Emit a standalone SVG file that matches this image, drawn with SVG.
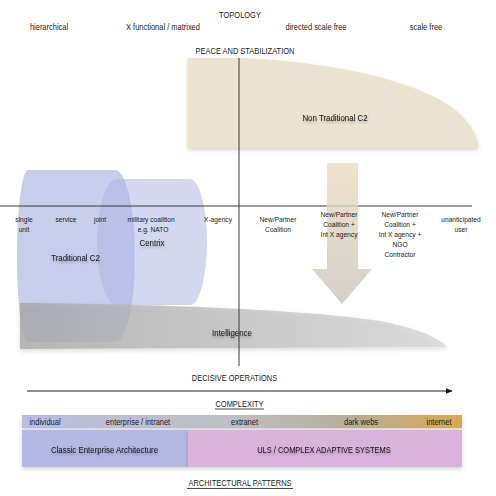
<svg xmlns="http://www.w3.org/2000/svg" width="496" height="496" viewBox="0 0 496 496">
<style>
text{font-family:"Liberation Sans",Arial,sans-serif;fill:#1a1a1a;text-anchor:middle}
.s8{font-size:8px}
.s9{font-size:9px}
.s95{font-size:9.5px}
.sh{filter:url(#tsh)}
.axis{stroke:#3a3a3a;stroke-width:1;fill:none}
.ul{stroke:#1a1a1a;stroke-width:0.8}
</style>
<defs>
<linearGradient id="band" x1="0" y1="0" x2="1" y2="0">
<stop offset="0" stop-color="#b9bde2"/>
<stop offset="0.45" stop-color="#bfbfc6"/>
<stop offset="0.75" stop-color="#b6ad99"/>
<stop offset="1" stop-color="#d8aa4c"/>
</linearGradient>
<linearGradient id="arrowG" x1="0" y1="0" x2="0" y2="1">
<stop offset="0" stop-color="#eadcc0"/>
<stop offset="1" stop-color="#cbc7bf"/>
</linearGradient>
<linearGradient id="intelG" x1="0" y1="0" x2="1" y2="0">
<stop offset="0" stop-color="#a8a8a8"/>
<stop offset="1" stop-color="#d6d6d6"/>
</linearGradient>
<filter id="tsh" x="-10%" y="-30%" width="120%" height="180%">
<feDropShadow dx="0.5" dy="1.5" stdDeviation="1" flood-color="#000" flood-opacity="0.35"/>
</filter>
<filter id="bsh" x="-5%" y="-10%" width="110%" height="130%">
<feDropShadow dx="0" dy="2" stdDeviation="2" flood-color="#000" flood-opacity="0.18"/>
</filter>
<marker id="arr" viewBox="0 0 10 10" refX="9" refY="5" markerWidth="7" markerHeight="7" orient="auto">
<path d="M0,1 L10,5 L0,9 Z" fill="#1a1a1a"/>
</marker>
</defs>
<rect width="496" height="496" fill="#fff"/>

<g id="nontraditional-c2">
<path d="M188,58 L240,58 C340,62 428,84 460,114 Q478,132 478,148 L188,148 Z" fill="#ebe3cf" filter="url(#bsh)"/>
<text class="s95 sh" transform="translate(335,120.5) scale(0.83,1)">Non Traditional C2</text>
</g>

<g id="traditional-c2">
<path d="M28,170 L115,170 A20,86 0 0 1 115,342 L28,342 A11,86 0 0 1 28,170 Z" fill="#a3acdf" fill-opacity="0.6"/>
</g>
<g id="centrix">
<path d="M117,179 L190,179 A17,63 0 0 1 190,305 L117,305 A20,63 0 0 1 117,179 Z" fill="#aeb6e3" fill-opacity="0.55"/>
</g>

<g id="intelligence">
<path d="M20,303 C150,304 300,309 380,321 Q432,331 447,347 L20,349 Z" fill="url(#intelG)" fill-opacity="0.8" filter="url(#bsh)"/>
<text class="s95 sh" transform="translate(232,335.5) scale(0.83,1)">Intelligence</text>
</g>

<g id="connectors">
<line class="axis" x1="239" y1="58" x2="239" y2="366"/>
<line class="axis" x1="0" y1="206" x2="472" y2="206"/>
<line x1="27" y1="391" x2="452" y2="391" stroke="#1a1a1a" stroke-width="1" marker-end="url(#arr)"/>
</g>

<g id="transition-arrow">
<path d="M327,163 L358,163 L358,269 L372,269 L342,304 L312,269 L327,269 Z" fill="url(#arrowG)" fill-opacity="0.82"/>
</g>

<g id="cylinder-labels">
<text class="s95 sh" transform="translate(75.5,260.5) scale(0.83,1)">Traditional C2</text>
<text class="s95 sh" transform="translate(152,245.5) scale(0.83,1)">Centrix</text>
</g>

<g id="topology">
<text class="s9" transform="translate(240,17.5) scale(0.83,1)">TOPOLOGY</text>
<text class="s9" transform="translate(49,30) scale(0.83,1)">hierarchical</text>
<text class="s9" transform="translate(163,30) scale(0.83,1)">X functional / matrixed</text>
<text class="s9" transform="translate(316,30) scale(0.83,1)">directed scale free</text>
<text class="s9" transform="translate(426,30) scale(0.83,1)">scale free</text>
<text class="s9" transform="translate(245,53.5) scale(0.83,1)">PEACE AND STABILIZATION</text>
</g>

<g id="axis-labels">
<text class="s8" transform="translate(24,222) scale(0.83,1)">single</text>
<text class="s8" transform="translate(24,232) scale(0.83,1)">unit</text>
<text class="s8" transform="translate(66,222) scale(0.83,1)">service</text>
<text class="s8" transform="translate(100,222) scale(0.83,1)">joint</text>
<text class="s8" transform="translate(151,222) scale(0.83,1)">military coalition</text>
<text class="s8" transform="translate(153,232) scale(0.83,1)">e.g. NATO</text>
<text class="s8" transform="translate(218,222) scale(0.83,1)">X-agency</text>
<text class="s8" transform="translate(278,222) scale(0.83,1)">New/Partner</text>
<text class="s8" transform="translate(278,232) scale(0.83,1)">Coalition</text>
<text class="s8" transform="translate(339,217) scale(0.83,1)">New/Partner</text>
<text class="s8" transform="translate(339,227) scale(0.83,1)">Coalition +</text>
<text class="s8" transform="translate(339,237) scale(0.83,1)">Int X agency</text>
<text class="s8" transform="translate(400,217) scale(0.83,1)">New/Partner</text>
<text class="s8" transform="translate(400,227) scale(0.83,1)">Coalition +</text>
<text class="s8" transform="translate(400,237) scale(0.83,1)">Int X agency +</text>
<text class="s8" transform="translate(400,247) scale(0.83,1)">NGO</text>
<text class="s8" transform="translate(400,257) scale(0.83,1)">Contractor</text>
<text class="s8" transform="translate(461,222) scale(0.83,1)">unanticipated</text>
<text class="s8" transform="translate(461,232) scale(0.83,1)">user</text>
</g>

<g id="bottom-titles">
<text class="s9" transform="translate(234.5,380.5) scale(0.83,1)">DECISIVE OPERATIONS</text>
<text class="s9" transform="translate(239.5,406.5) scale(0.83,1)">COMPLEXITY</text>
<line class="ul" x1="215" y1="409" x2="264" y2="409"/>
</g>

<g id="network-band">
<rect x="22" y="415" width="440" height="13" fill="url(#band)" filter="url(#bsh)"/>
<text class="s9" transform="translate(45,425) scale(0.83,1)">individual</text>
<text class="s9" transform="translate(138,425) scale(0.83,1)">enterprise / intranet</text>
<text class="s9" transform="translate(244.5,425) scale(0.83,1)">extranet</text>
<text class="s9" transform="translate(361,425) scale(0.83,1)">dark webs</text>
<text class="s9" transform="translate(439,425) scale(0.83,1)">internet</text>
</g>

<g id="classic-enterprise-architecture">
<rect x="22" y="430" width="166" height="37" fill="#b4b7e1" filter="url(#bsh)"/>
<text class="s95 sh" transform="translate(104.5,452.5) scale(0.83,1)">Classic Enterprise Architecture</text>
</g>
<g id="uls-complex-adaptive-systems">
<rect x="188" y="430" width="274" height="37" fill="#dab3dc" filter="url(#bsh)"/>
<text class="s9 sh" transform="translate(324,452.5) scale(0.83,1)">ULS / COMPLEX ADAPTIVE SYSTEMS</text>
</g>

<g id="architectural-patterns">
<text class="s9" transform="translate(240,485.5) scale(0.83,1)">ARCHITECTURAL PATTERNS</text>
<line class="ul" x1="187" y1="488.5" x2="293" y2="488.5"/>
</g>
</svg>
